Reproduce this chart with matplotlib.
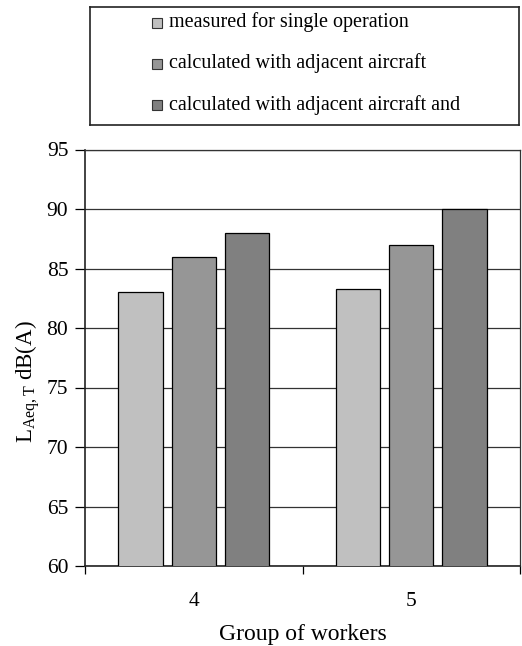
import matplotlib.pyplot as plt
import numpy as np
from matplotlib.patches import Rectangle

plt.rcParams["font.family"] = ["Liberation Serif", "DejaVu Serif"]
plt.rcParams["mathtext.fontset"] = "custom"
plt.rcParams["mathtext.rm"] = "Liberation Serif"
plt.rcParams["mathtext.it"] = "Liberation Serif:italic"

groups = ["4", "5"]
series = [
    "measured for single operation",
    "calculated with adjacent aircraft",
    "calculated with adjacent aircraft and",
]
values = [
    [83.0, 83.3],
    [86.0, 87.0],
    [88.0, 90.0],
]
colors = ["#c0c0c0", "#969696", "#808080"]

fig = plt.figure(figsize=(5.22, 6.46), dpi=100)
ax = fig.add_axes([85 / 522, 1 - 566 / 646, 435 / 522, 416.5 / 646])

x = np.arange(len(groups))
width = 0.203
step = 0.245
for i, (vals, c) in enumerate(zip(values, colors)):
    ax.bar(x + (i - 1) * step, vals, width, color=c, edgecolor="black",
           linewidth=0.9, zorder=3)

ax.set_xlim(-0.5, len(groups) - 0.5)
ax.set_ylim(60, 95)
ax.set_yticks(np.arange(60, 96, 5))
ax.yaxis.grid(True, color="#333333", linewidth=0.9, zorder=0)
ax.set_axisbelow(True)

# category boundaries get the tick marks, labels sit between them
ax.set_xticks(np.arange(-0.5, len(groups), 1.0))
ax.set_xticklabels([])
ax.set_xticks(x, minor=True)
ax.set_xticklabels(groups, minor=True, fontsize=15.5)
ax.tick_params(axis="x", which="minor", length=0, pad=19)
ax.tick_params(axis="x", which="major", length=6, width=0.9, direction="out")
ax.tick_params(axis="y", length=7, width=0.9, direction="out", labelsize=15.5, pad=5)

for s in ["left", "bottom"]:
    ax.spines[s].set_linewidth(1.2)
    ax.spines[s].set_color("#222222")
for s in ["top", "right"]:
    ax.spines[s].set_linewidth(0.9)
    ax.spines[s].set_color("#333333")

ax.set_xlabel("Group of workers", fontsize=17, labelpad=9)
fig.text(28 / 522, 1 - 382 / 646, r"L$_{\mathrm{Aeq,T}}$ dB(A)", fontsize=16.5,
         rotation=90, ha="center", va="center")

# boxed legend above the plot
lax = fig.add_axes([90 / 522, 1 - 124.5 / 646, 429 / 522, 118 / 646])
lax.set_xlim(0, 429)
lax.set_ylim(118, 0)
lax.set_xticks([])
lax.set_yticks([])
for s in lax.spines.values():
    s.set_linewidth(1.2)
    s.set_color("#222222")
row_y = [16, 57, 98.5]
for label, c, yy in zip(series, colors, row_y):
    lax.add_patch(Rectangle((62, yy - 5), 10, 10, facecolor=c,
                            edgecolor="#333333", linewidth=0.8))
    lax.text(79, yy, label, fontsize=14.5, va="center", ha="left")

fig.savefig("out.png", dpi=100)
